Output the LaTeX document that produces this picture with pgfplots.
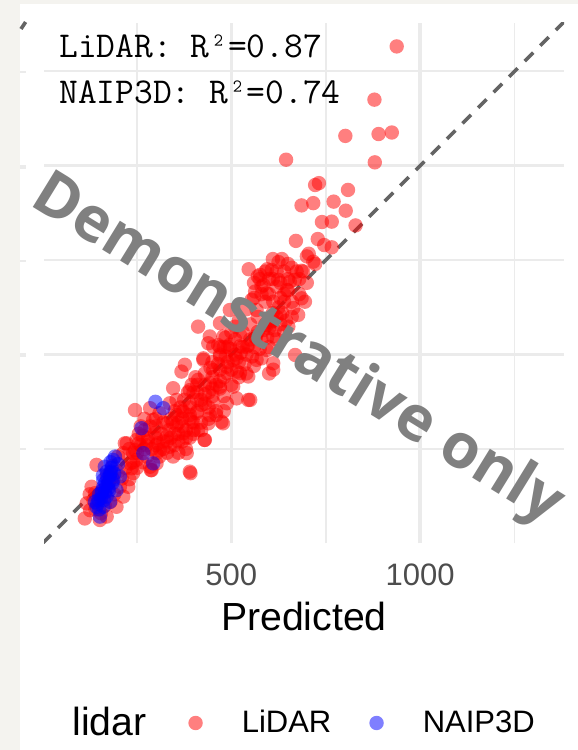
\documentclass[border=0pt]{standalone}
\usepackage{fontspec}
\setmainfont{Liberation Sans}
\newfontfamily\wmfont{Open Sans}
\usepackage{pgfplots}
\usepackage{pgfplotstable}
\pgfplotsset{compat=1.18}
\definecolor{bgbeige}{HTML}{F4F3EF}
\definecolor{gridmaj}{HTML}{EBEBEB}
\definecolor{ticklab}{HTML}{4D4D4D}
\definecolor{abline}{HTML}{646464}
\definecolor{wm}{HTML}{808080}

\pgfplotstableread{
x y
938 1316
879 1175
802 1079
890 1084
925 1088
645 1016
880 1009
722 949
732 954
809 936
686 895
717 901
771 905
803 881
740 851
766 852
829 842
671 801
729 806
746 790
766 784
705 767
722 740
686 722
610 753
634 753
546 726
595 726
668 698
570 707
717 746
625 745
607 724
673 720
576 711
624 698
655 693
585 684
563 667
594 662
647 671
686 649
695 640
554 645
611 640
664 623
567 618
496 618
629 605
677 605
412 574
470 583
510 574
594 578
651 574
443 548
479 548
523 552
563 548
611 548
594 512
669 499
452 521
496 526
541 521
426 490
470 495
514 490
567 486
611 477
611 460
600 450
550 380
439 530
470 520
497 515
523 522
377 473
368 455
426 486
452 459
488 468
523 451
545 442
412 433
443 424
470 415
505 415
346 411
390 406
545 380
514 384
488 371
452 375
421 367
337 371
285 358
245 353
373 349
408 345
443 340
474 322
439 318
395 322
355 314
329 318
293 327
412 300
373 292
329 283
298 292
430 274
382 239
337 256
311 247
346 230
390 190
249 274
218 265
240 239
276 230
302 239
236 199
285 203
392 186
429 274
478 318
287 194
420 380
430 420
440 400
450 440
460 420
470 460
480 440
490 480
500 460
510 500
520 480
530 520
540 500
550 540
560 520
570 560
580 540
590 580
600 570
610 610
620 600
630 650
640 640
650 670
480 520
500 560
520 590
540 620
560 650
580 680
600 700
620 720
590 640
570 600
550 580
530 560
510 540
490 520
470 500
450 480
430 450
410 420
400 400
390 370
410 380
440 360
460 350
480 390
500 420
520 440
540 450
560 470
580 490
600 520
620 540
640 560
660 600
630 580
610 590
660 640
445 465
465 475
485 495
505 485
525 505
545 525
565 545
585 565
605 585
625 625
515 455
535 475
555 495
575 515
595 545
615 565
635 610
645 590
465 525
485 545
300 260
320 270
340 280
360 290
380 300
350 260
370 270
390 280
330 240
310 230
360 240
380 250
400 290
400 320
420 300
360 320
340 330
320 320
300 310
280 280
260 260
350 350
370 330
390 340
335 300
345 320
355 340
365 360
375 380
385 400
395 420
405 440
350 290
370 310
390 330
410 350
430 370
450 390
470 410
360 270
380 280
400 300
420 320
440 330
460 340
480 350
430 395
410 400
450 410
470 430
490 450
390 360
370 350
355 380
255 290
270 300
285 310
300 280
315 290
275 260
290 250
305 265
250 240
265 215
320 250
330 270
240 215
230 250
300 330
310 345
270 330
260 310
560 690
575 700
590 720
610 700
630 690
650 700
640 720
660 730
680 700
700 690
690 720
620 680
600 660
580 660
640 660
680 660
700 760
650 740
112 66
126 88
117 106
139 133
143 208
130 150
170 71
196 97
214 124
227 150
240 186
232 212
223 265
245 247
214 239
210 172
249 221
302 212
289 194
152 62
150 120
160 140
175 160
185 175
200 190
190 130
205 150
220 200
230 170
165 100
180 110
140 90
155 80
135 115
125 130
255 265
265 285
270 250
280 270
200 230
185 205
170 180
250 200
}\lidartab

\pgfplotstableread{
x y
299 375
320 358
262 305
267 239
293 212
165 203
187 221
179 186
161 168
187 168
174 146
157 133
148 115
170 124
143 97
152 71
192 230
205 177
196 141
161 97
179 110
139 110
161 150
170 190
183 200
155 120
165 135
175 160
150 90
190 185
180 215
160 180
145 105
200 210
168 150
172 170
178 178
182 190
166 160
158 140
176 140
185 160
150 130
163 115
}\naiptab

\begin{document}
\begin{tikzpicture}
\fill[bgbeige] (0,0) rectangle (289pt,375pt);
\fill[white] (10pt,0) rectangle (289pt,373pt);
% stubs of the neighbouring facet
\draw[gridmaj, line width=0.9pt] (10pt,339pt) -- (13pt,339pt);
\draw[gridmaj, line width=1.7pt] (10pt,291.5pt) -- (13pt,291.5pt);
\draw[gridmaj, line width=0.9pt] (10pt,244.5pt) -- (13pt,244.5pt);
\draw[gridmaj, line width=1.7pt] (10pt,197.5pt) -- (13pt,197.5pt);
\draw[gridmaj, line width=0.9pt] (10pt,150.5pt) -- (13pt,150.5pt);
\draw[abline, line width=1.8pt] (10.5pt,360.5pt) -- (12.8pt,364pt);
\begin{axis}[
  at={(22pt,103.3pt)}, anchor=south west,
  scale only axis, width=260pt, height=260.2pt,
  xmin=4, xmax=1381, ymin=0, ymax=1378,
  xtick={500,1000}, xticklabels={500,1000},
  minor xtick={250,750,1250},
  ytick={500,1000}, yticklabels={}, minor ytick={250,750,1250},
  grid=both,
  major grid style={gridmaj, line width=1.7pt},
  minor grid style={gridmaj, line width=0.9pt},
  axis line style={draw=none},
  major tick length=0pt, minor tick length=0pt,
  tick style={draw=none},
  xticklabel style={font=\fontsize{15.5}{18}\selectfont, text=ticklab, anchor=base, yshift=-20.8pt},
  xlabel={Predicted},
  xlabel style={at={(axis description cs:0.5,0)}, anchor=base, yshift=-43.3pt, font=\fontsize{19.6}{22}\selectfont},
  legend style={draw=none, fill=none, at={(axis description cs:0.2769,-0.3451)}, anchor=west,
    inner sep=0pt, column sep=0pt, font=\fontsize{15.5}{18}\selectfont,
    /tikz/every odd column/.append style={column sep=17.5pt},
    /tikz/every even column/.append style={column sep=17pt}},
  legend columns=-1,
  mark size=3.6pt,
]
\addplot[only marks, mark=*, color=red, draw opacity=0, fill opacity=0.5] table[x=x,y=y] {\lidartab};
\addlegendentry{LiDAR}
\addplot[only marks, mark=*, color=blue, draw opacity=0, fill opacity=0.5] table[x=x,y=y] {\naiptab};
\addlegendentry{NAIP3D}
\addplot[forget plot, abline, line width=1.8pt, dash pattern=on 6pt off 5pt] coordinates {(0,0) (1381,1381)};
\end{axis}
\node[anchor=base west, inner sep=0pt, font=\ttfamily\fontsize{18.2}{20}\selectfont] at (29.5pt,346pt) {LiDAR: R²=0.87};
\node[anchor=base west, inner sep=0pt, font=\ttfamily\fontsize{18.2}{20}\selectfont] at (29.5pt,323pt) {NAIP3D: R²=0.74};
\node[anchor=base west, inner sep=0pt, font=\fontsize{19.6}{22}\selectfont] at (36pt,7pt) {lidar};
\node[rotate=-31.6, inner sep=0pt, text=wm, font=\wmfont\bfseries\fontsize{31}{36}\selectfont] at (148.5pt,199.5pt) {Demonstrative only};
\pgfresetboundingbox
\path (0,0) rectangle (289pt,375pt);
\end{tikzpicture}
\end{document}
